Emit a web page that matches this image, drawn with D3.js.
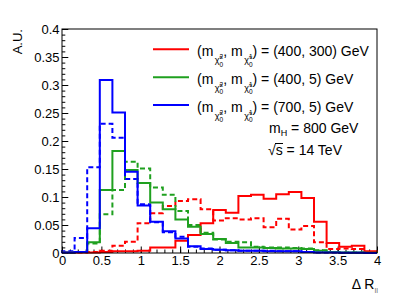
<!DOCTYPE html>
<html>
<head>
<meta charset="utf-8">
<script src="https://cdn.jsdelivr.net/npm/d3@7"></script>
<style>
  body { margin: 0; background: #fff; }
  svg { display: block; font-family: "Liberation Sans", Arial, sans-serif; }
</style>
</head>
<body>
<div id="chart"></div>
<script>
// bin edges: 25 bins of 0.16 from 0 to 4
var binEdges = d3.range(26).map(function(i) { return +(i * 0.16).toFixed(2); });

var redSolid = [0.001, 0.001, 0.001, 0.002, 0.003, 0.003, 0.004, 0.010, 0.010, 0.022, 0.032, 0.053, 0.077,
                0.072, 0.102, 0.104, 0.097, 0.105, 0.109, 0.098, 0.056, 0.018, 0.011, 0.013, 0.003];
var redDashed = [0.000, 0.001, 0.002, 0.004, 0.013, 0.020, 0.053, 0.071, 0.084, 0.093, 0.096, 0.078, 0.058,
                 0.062, 0.060, 0.062, 0.046, 0.061, 0.042, 0.048, 0.019, 0.007, 0.008, 0.007, 0.002];
var greenSolid = [0.001, 0.002, 0.019, 0.1125, 0.182, 0.148, 0.125, 0.090, 0.078, 0.060, 0.047, 0.034, 0.025,
                  0.018, 0.010, 0.010, 0.009, 0.008, 0.008, 0.007, 0.004, 0.002, 0.001, 0.001, 0.0005];
var greenDashed = [0.001, 0.002, 0.017, 0.069, 0.1125, 0.163, 0.151, 0.117, 0.104, 0.075, 0.050, 0.036, 0.024,
                   0.020, 0.019, 0.011, 0.010, 0.010, 0.009, 0.008, 0.005, 0.002, 0.001, 0.001, 0.0005];
var blueSolid = [0.001, 0.002, 0.044, 0.309, 0.251, 0.145, 0.085, 0.056, 0.039, 0.026, 0.012, 0.007, 0.006,
                 0.005, 0.004, 0.004, 0.003, 0.003, 0.003, 0.002, 0.001, 0.001, 0.0005, 0.0005, 0];
var blueDashed = [0.003, 0.027, 0.153, 0.231, 0.206, 0.132, 0.087, 0.055, 0.037, 0.029, 0.011, 0.008, 0.006,
                  0.005, 0.004, 0.004, 0.004, 0.003, 0.003, 0.002, 0.001, 0.001, 0.0005, 0.0005, 0];

var xTicks = [0, 0.5, 1, 1.5, 2, 2.5, 3, 3.5, 4];
var yTicks = [0, 0.05, 0.1, 0.15, 0.2, 0.25, 0.3, 0.35, 0.4];
var legendMasses = ["(400, 300) GeV", "(400, 5) GeV", "(700, 5) GeV"];

var width = 415, height = 298;
var frameLeft = 62, frameRight = 377, frameTop = 29, frameBottom = 253;

var svg = d3.select("#chart").append("svg")
  .attr("width", width)
  .attr("height", height);

var x = d3.scaleLinear().domain([0, 4]).range([frameLeft, frameRight]);
var y = d3.scaleLinear().domain([0, 0.4]).range([frameBottom, frameTop]);

// minor ticks
svg.append("g")
  .attr("transform", "translate(0," + frameBottom + ")")
  .call(d3.axisBottom(x).tickValues(d3.range(0, 4.01, 0.1)).tickSizeInner(-3.5).tickSizeOuter(0).tickFormat(""))
  .call(function(g) { g.select(".domain").remove(); });
svg.append("g")
  .attr("transform", "translate(" + frameLeft + ",0)")
  .call(d3.axisLeft(y).tickValues(d3.range(0, 0.401, 0.01)).tickSizeInner(-3.3).tickSizeOuter(0).tickFormat(""))
  .call(function(g) { g.select(".domain").remove(); });

// major ticks + labels
var xAxis = svg.append("g")
  .attr("transform", "translate(0," + frameBottom + ")")
  .call(d3.axisBottom(x).tickValues(xTicks).tickSizeInner(-6.5).tickSizeOuter(0).tickPadding(3)
    .tickFormat(function(d) { return d3.format("")(d); }));
var yAxis = svg.append("g")
  .attr("transform", "translate(" + frameLeft + ",0)")
  .call(d3.axisLeft(y).tickValues(yTicks).tickSizeInner(-6.3).tickSizeOuter(0).tickPadding(2.5)
    .tickFormat(function(d) { return d3.format("")(d); }));

[xAxis, yAxis].forEach(function(g) {
  g.select(".domain").remove();
  g.selectAll("text").attr("font-size", 13).attr("font-family", "Liberation Sans, Arial, sans-serif").attr("fill", "#000");
});
svg.selectAll(".tick line").attr("stroke", "#000");

// histogram step outline
function stepPath(values) {
  var pts = [[x(binEdges[0]), y(0)]];
  values.forEach(function(v, i) {
    pts.push([x(binEdges[i]), y(v)]);
    pts.push([x(binEdges[i + 1]), y(v)]);
  });
  pts.push([x(binEdges[binEdges.length - 1]), y(0)]);
  return d3.line()(pts);
}

var series = [
  { values: redDashed, color: "#ff0000", dash: "5,3" },
  { values: greenDashed, color: "#1fa01f", dash: "5,3" },
  { values: blueDashed, color: "#0000ff", dash: "5,3" },
  { values: redSolid, color: "#ff0000", dash: null },
  { values: greenSolid, color: "#1fa01f", dash: null },
  { values: blueSolid, color: "#0000ff", dash: null }
];

series.forEach(function(s) {
  svg.append("path")
    .attr("d", stepPath(s.values))
    .attr("fill", "none")
    .attr("stroke", s.color)
    .attr("stroke-width", 2)
    .attr("stroke-dasharray", s.dash);
});

// frame
svg.append("rect")
  .attr("x", frameLeft).attr("y", frameTop)
  .attr("width", frameRight - frameLeft).attr("height", frameBottom - frameTop)
  .attr("fill", "none").attr("stroke", "#000").attr("stroke-width", 1);

// axis titles
svg.append("text")
  .attr("transform", "translate(22," + frameTop + ") rotate(-90)")
  .attr("text-anchor", "end")
  .attr("font-size", 13)
  .text("A.U.");

var xt = svg.append("text")
  .attr("x", 378).attr("y", 289)
  .attr("text-anchor", "end")
  .attr("font-size", 14);
xt.append("tspan").text("\u0394 R");
xt.append("tspan").attr("font-size", 8).attr("dy", 4).attr("fill", "#777").text("ll");

// legend
var legendColors = ["#ff0000", "#1fa01f", "#0000ff"];
legendMasses.forEach(function(label, i) {
  var ly = 49.3 + i * 27.9;
  var base = ly + 6.7;
  svg.append("line")
    .attr("x1", 153).attr("x2", 189)
    .attr("y1", ly).attr("y2", ly)
    .attr("stroke", legendColors[i]).attr("stroke-width", 2);

  var t = svg.append("text").attr("x", 197).attr("y", base).attr("font-size", 14);
  t.append("tspan").text("(m");
  t.append("tspan").attr("font-size", 9).attr("dx", 1.5).attr("dy", 7).text("\u03c7\u0303");
  t.append("tspan").attr("font-size", 6.5).attr("dy", -4).text("2");
  t.append("tspan").attr("font-size", 6.5).attr("dx", -3.6).attr("dy", 7.5).text("0");
  t.append("tspan").attr("dy", -10.5).text(", m");
  t.append("tspan").attr("font-size", 9).attr("dx", 1.5).attr("dy", 7).text("\u03c7\u0303");
  t.append("tspan").attr("font-size", 6.5).attr("dy", -4).text("1");
  t.append("tspan").attr("font-size", 6.5).attr("dx", -3.6).attr("dy", 7.5).text("0");
  t.append("tspan").attr("dy", -10.5).text(") = " + label);
});

var mh = svg.append("text").attr("x", 269).attr("y", 133).attr("font-size", 14);
mh.append("tspan").text("m");
mh.append("tspan").attr("font-size", 9).attr("dy", 3).text("H");
mh.append("tspan").attr("dy", -3).text(" = 800 GeV");

var rs = svg.append("text").attr("x", 268).attr("y", 155).attr("font-size", 14);
rs.append("tspan").text("\u221as = 14 TeV");
svg.append("line")
  .attr("x1", 275).attr("x2", 283)
  .attr("y1", 143.5).attr("y2", 143.5)
  .attr("stroke", "#000").attr("stroke-width", 1);
</script>
</body>
</html>
